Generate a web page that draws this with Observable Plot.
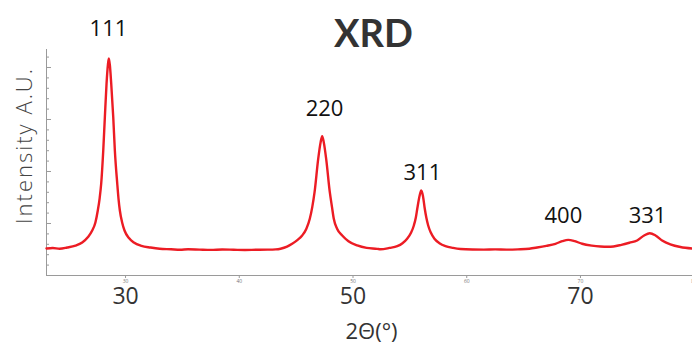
<!DOCTYPE html>
<html>
<head>
<meta charset="utf-8">
<script src="https://cdn.jsdelivr.net/npm/d3@7"></script>
<script src="https://cdn.jsdelivr.net/npm/@observablehq/plot@0.6"></script>
<style>
  html, body { margin: 0; padding: 0; background: #fff; }
  #chart svg { display: block; }
</style>
</head>
<body>
<div id="chart"></div>
<script>
// ---- data ----
const twoTheta = [
  23.05, 23.6, 24.2, 24.87, 25.6, 26.19, 26.7, 27.07, 27.35, 27.56, 27.72, 27.86, 28.04, 28.18, 28.33, 28.45, 28.53,
  28.62, 28.74, 28.92, 29.06, 29.27, 29.38, 29.5, 29.7, 29.91, 30.3, 30.73, 31.4, 32.2, 33.0, 34.0, 34.8, 35.5,
  36.5, 37.5, 38.5, 39.5, 40.5, 41.5, 42.5, 43.2, 43.63, 44.2, 44.65, 45.1, 45.53, 45.9, 46.2, 46.42, 46.62, 46.94,
  47.15, 47.29, 47.43, 47.64, 47.96, 48.15, 48.31, 48.6, 49.05, 49.6, 50.37, 51.2, 52.13, 52.42, 53.2, 53.89,
  54.35, 54.76, 55.1, 55.35, 55.52, 55.65, 55.85, 56.0, 56.15, 56.31, 56.45, 56.61, 56.85, 57.16, 57.6, 58.13,
  58.8, 59.45, 60.5, 61.5, 62.5, 63.5, 64.5, 65.5, 66.19, 67.0, 67.8, 68.4, 68.92, 69.5, 70.15, 71.0, 71.76,
  72.4, 72.9, 73.6, 74.3, 74.98, 75.6, 76.09, 76.6, 77.18, 77.9, 78.79, 79.85
];
const intensity = [
  520, 530, 515, 538, 575, 635, 740, 865, 1020, 1250, 1480, 1769, 2404, 3038, 3692, 4050, 4173,
  4050, 3692, 3038, 2404, 1769, 1480, 1250, 1020, 865, 720, 635, 570, 538, 515, 505, 495, 505,
  498, 492, 500, 495, 490, 495, 497, 502, 515, 555, 610, 680, 769, 900, 1090, 1320, 1602, 2244,
  2560, 2679, 2560, 2244, 1602, 1320, 1090, 900, 769, 660, 577, 530, 513, 505, 530, 563,
  620, 706, 820, 962, 1110, 1283, 1530, 1635, 1530, 1283, 1110, 962, 820, 706, 620, 563,
  530, 510, 500, 498, 502, 497, 503, 515, 538, 570, 610, 660, 686, 660, 610, 575, 558,
  553, 558, 590, 630, 673, 770, 813, 770, 673, 600, 548, 519
];
const peakLabels = ["111", "220", "311", "400", "331"];
const peakLabelX = [28.5, 47.5, 56.1, 68.5, 75.9];
const peakLabelY = [4750, 3212, 1981, 1154, 1154];
const xSmallTicks = [30, 40, 50, 60, 70, 80];
const xBigTicks = [30, 50, 70];
const yMajorTicks = [1000, 2000, 3000, 4000];
const yMinorTicks = [200, 400, 600, 800, 1200, 1400, 1600, 1800, 2200, 2400, 2600, 2800, 3200, 3400, 3600, 3800, 4200];
const xDomain = [23.05, 79.85];
const yDomain = [0, 4346];
const titleText = "XRD";
const xLabel = "2Θ(°)";
const yLabel = "Intensity A.U.";

const curve = twoTheta.map((t, i) => ({t, v: intensity[i]}));
const labels = peakLabels.map((s, i) => ({s, x: peakLabelX[i], y: peakLabelY[i]}));

const axisColor = "#9a9a9a";
const font = "Open Sans, sans-serif";

const chart = Plot.plot({
  width: 692,
  height: 344,
  marginLeft: 46,
  marginRight: 0,
  marginTop: 49,
  marginBottom: 69,
  style: {fontFamily: font, background: "#fff"},
  x: {domain: xDomain},
  y: {domain: yDomain},
  marks: [
    // small x ticks + tiny labels
    Plot.axisX({ticks: xSmallTicks, tickSize: 3, tickPadding: 1, fontSize: 5, stroke: axisColor, color: "#777", label: null}),
    // big x labels
    Plot.axisX({ticks: xBigTicks, tickSize: 0, tickPadding: 12, fontSize: 23, color: "#333", label: null}),
    // y ticks inward, no text
    Plot.axisY({ticks: yMajorTicks, tickSize: -5, tickFormat: () => "", stroke: axisColor, label: null}),
    Plot.axisY({ticks: yMinorTicks, tickSize: -3, tickFormat: () => "", stroke: axisColor, label: null}),
    Plot.ruleX([xDomain[0]], {stroke: axisColor}),
    Plot.ruleY([yDomain[0]], {stroke: axisColor}),
    Plot.line(curve, {x: "t", y: "v", stroke: "#ec1c24", strokeWidth: 2.4, curve: "monotone-x"}),
    Plot.text(labels, {x: "x", y: "y", text: "s", fontSize: 22, fill: "#111", fontFamily: font}),
    Plot.text([titleText], {frameAnchor: "top", dx: 4, dy: -3, lineAnchor: "bottom", fontSize: 38, fontWeight: "bold", fill: "#333", fontFamily: "Lato, sans-serif"}),
    Plot.text([xLabel], {frameAnchor: "bottom", dx: 2, dy: 63, lineAnchor: "bottom", fontSize: 22, fill: "#333"}),
    Plot.text([yLabel], {frameAnchor: "left", textAnchor: "middle", rotate: -90, dx: -22, dy: -17, fontSize: 22, fontWeight: 300, fill: "#444"})
  ]
});
document.getElementById("chart").appendChild(chart);
// widen the y-axis title like the reference's wide typeface
d3.select(chart).selectAll("text").filter(function() { return this.textContent === yLabel; })
  .style("letter-spacing", "2px");
</script>
</body>
</html>
